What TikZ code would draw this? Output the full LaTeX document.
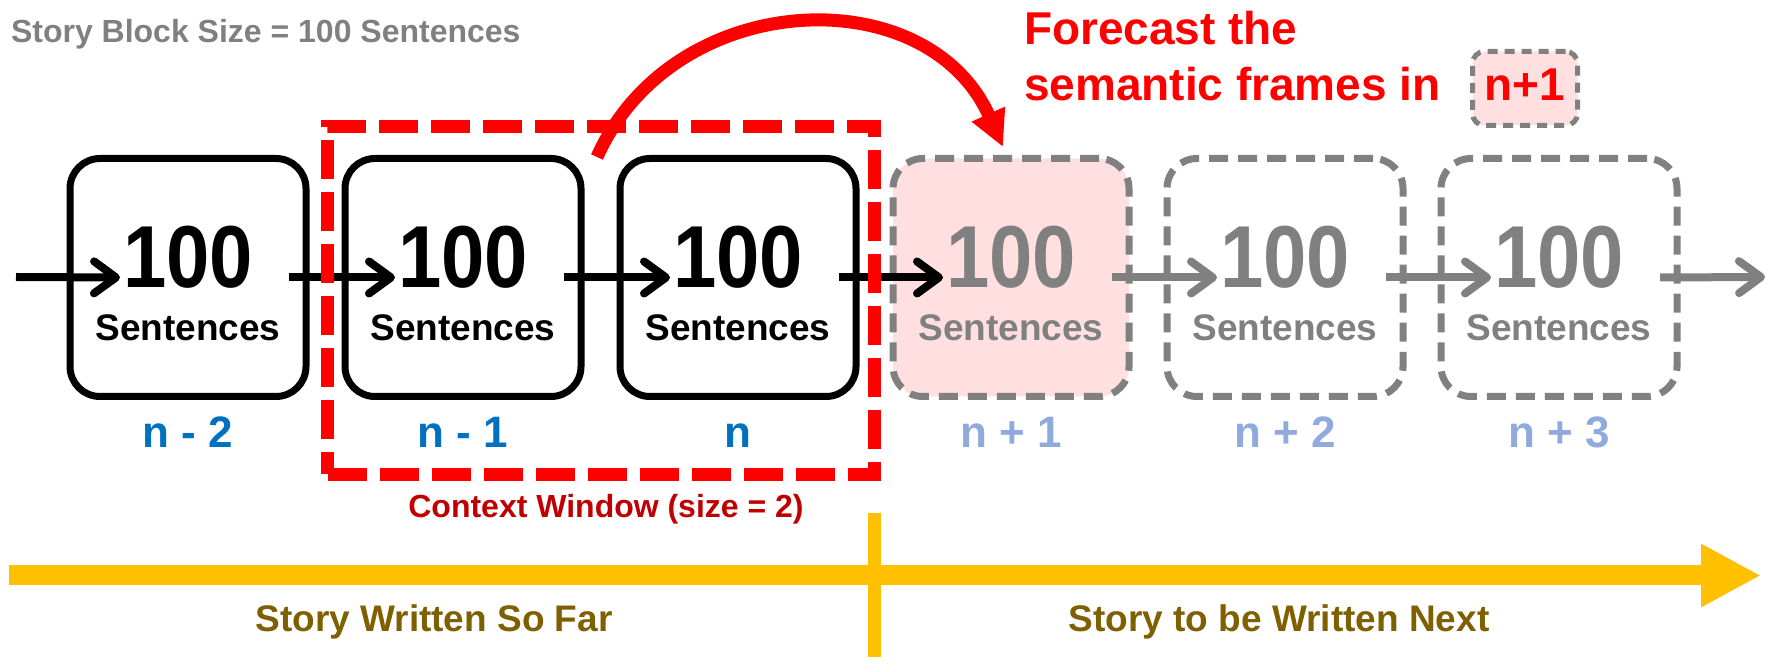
\documentclass[tikz,border=0pt]{standalone}
\usepackage{fontspec}
\usepackage{graphicx}
\setmainfont{Liberation Sans}
\usetikzlibrary{arrows.meta,calc}
\definecolor{myblue}{HTML}{0070C0}
\definecolor{lightblue}{HTML}{8FAADC}
\definecolor{darkred}{HTML}{C00000}
\definecolor{pinkfill}{HTML}{FFDFDF}
\definecolor{gold}{HTML}{FFC000}
\definecolor{olive}{HTML}{7F6000}
\definecolor{midgray}{HTML}{808080}
\begin{document}
\begin{tikzpicture}[x=0.5pt,y=-0.5pt,
  every node/.style={inner sep=0pt, outer sep=0pt},
  block/.style={draw=black, line width=3.5pt, rounded corners=15pt, minimum width=118pt, minimum height=119pt},
  fblock/.style={draw=midgray, line width=3.5pt, dash pattern=on 9.5pt off 5pt, rounded corners=15pt, minimum width=118pt, minimum height=119pt},
  numtxt/.style={anchor=base, font=\fontsize{44}{44}\selectfont\bfseries},
  senttxt/.style={anchor=base, font=\fontsize{18.5}{18.5}\selectfont\bfseries},
  idxtxt/.style={anchor=base, font=\fontsize{22}{22}\selectfont\bfseries},
  flow/.style={line width=4pt, -{Straight Barb[length=11pt,width=16pt,round]}},
  redtxt/.style={text=red, font=\fontsize{23}{23}\selectfont\bfseries},
  goldtxt/.style={anchor=base, text=olive, font=\fontsize{18.5}{18.5}\selectfont\bfseries}
]
\useasboundingbox (0,0) rectangle (1776,672);

% title
\node[anchor=base west, text=midgray, font=\fontsize{16}{16}\selectfont\bfseries] (title) at (11,43) {Story Block Size = 100 Sentences};

% boxes
\node[block] (b1) at (188,277.5) {};
\node[block] (b2) at (463,277.5) {};
\node[block] (b3) at (738,277.5) {};
\node[fblock, fill=pinkfill] (b4) at (1011,277.5) {};
\node[fblock] (b5) at (1285,277.5) {};
\node[fblock] (b6) at (1559,277.5) {};

% texts
\foreach \i/\x/\c in {1/188/black,2/463/black,3/738/black,4/1011/midgray,5/1285/midgray,6/1559/midgray}{
  \node[numtxt, text=\c] (num\i) at (\x,288) {\scalebox{0.885}[1]{100}};
  \node[senttxt, text=\c] (sen\i) at (\x,341) {Sentences};
}
\node[idxtxt, text=myblue] (l1) at (188,448) {n - 2};
\node[idxtxt, text=myblue] (l2) at (463,448) {n - 1};
\node[idxtxt, text=myblue] (l3) at (738,448) {n};
\node[idxtxt, text=lightblue] (l4) at (1011,448) {n + 1};
\node[idxtxt, text=lightblue] (l5) at (1285,448) {n + 2};
\node[idxtxt, text=lightblue] (l6) at (1559,448) {n + 3};

% flow arrows
\coordinate (fin) at (16,277);
\coordinate (fout) at (1765,277);
\draw[flow] (fin) -- ($(b1.west)+(50,0)$);
\draw[flow] ($(b1.east)+(-17,0)$) -- ($(b2.west)+(50,0)$);
\draw[flow] ($(b2.east)+(-17,0)$) -- ($(b3.west)+(50,0)$);
\draw[flow] ($(b3.east)+(-17,0)$) -- ($(b4.west)+(50,0)$);
\draw[flow, midgray] ($(b4.east)+(-17,0)$) -- ($(b5.west)+(50,0)$);
\draw[flow, midgray] ($(b5.east)+(-17,0)$) -- ($(b6.west)+(50,0)$);
\draw[flow, midgray] ($(b6.east)+(-17,0)$) -- (fout);

% context window
\node[draw=red, line width=6.5pt, dash pattern=on 19.5pt off 6.5pt, minimum width=273.5pt, minimum height=174pt] (cw) at (601,300.5) {};
\node[anchor=base, text=darkred, font=\fontsize{16}{16}\selectfont\bfseries] (cwt) at (606,518) {Context Window (size = 2)};

% forecast arrow
\coordinate (fcs) at (597,157);
\coordinate (fce) at (1003,147);
\draw[red, line width=6.5pt, -{Triangle[length=18pt,width=17pt]}] (fcs) .. controls (673,-13) and (927,-23) .. (fce);

% forecast text
\node[redtxt, anchor=base west] (fc1) at (1024,45) {Forecast the};
\node[redtxt, anchor=base west] (fc2) at (1024,101) {semantic frames in};
\node[draw=midgray, fill=pinkfill, line width=2.5pt, dash pattern=on 5pt off 3.5pt, rounded corners=6pt, minimum width=52.5pt, minimum height=37pt] (nb) at (1525,88.5) {};
\node[redtxt, anchor=base] (nbt) at (1525,101) {n+1};

% timeline
\coordinate (ys) at (9,575.5);
\coordinate (ye) at (1761,575.5);
\coordinate (yt) at (874.5,513);
\coordinate (yb) at (874.5,657);
\draw[gold, line width=10pt, -{Triangle[length=30pt,width=29.5pt]}] (ys) -- (ye);
\draw[gold, line width=6.3pt] (yt) -- (yb);
\node[goldtxt] (sw) at (434,632) {Story Written So Far};
\node[goldtxt] (sn) at (1279,632) {Story to be Written Next};
\end{tikzpicture}
\end{document}
